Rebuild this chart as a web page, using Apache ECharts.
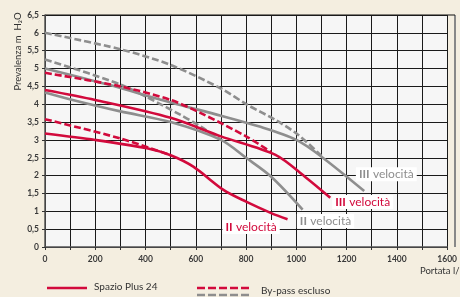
<!DOCTYPE html>
<html>
<head>
<meta charset="utf-8">
<script src="https://cdn.jsdelivr.net/npm/echarts@6/dist/echarts.min.js"></script>
<style>
  html, body { margin: 0; padding: 0; background: #f4eee0; }
  #chart { width: 460px; height: 297px; }
</style>
</head>
<body>
<div id="chart"></div>
<script>
// curve points [portata l/h, prevalenza m H2O]
const redSolidIII = [[0, 4.4], [200, 4.12], [500, 3.62], [700, 3.1], [917, 2.58], [1034, 1.97], [1135, 1.38]]
const redSolidII = [[0, 3.18], [200, 3.0], [410, 2.76], [500, 2.57], [590, 2.25], [710, 1.6], [800, 1.27], [900, 0.95], [965, 0.78]]
const redDashedIII = [[0, 4.88], [300, 4.5], [500, 4.12], [620, 3.75], [800, 3.1], [900, 2.66]]
const redDashedII = [[0, 3.58], [300, 3.04], [500, 2.57]]
const graySolidIII = [[0, 5.0], [250, 4.55], [500, 4.05], [700, 3.68], [850, 3.38], [1000, 3.0], [1100, 2.53], [1270, 1.57]]
const graySolidII = [[0, 4.33], [110, 4.12], [300, 3.8], [500, 3.5], [700, 3.0], [800, 2.5], [900, 1.97], [1025, 1.05]]
const grayDashedIII = [[0, 6.0], [300, 5.54], [500, 5.1], [700, 4.44], [806, 3.98], [917, 3.56], [1008, 3.14], [1100, 2.55]]
const grayDashedII = [[0, 5.25], [300, 4.55], [540, 3.7], [620, 3.37], [700, 3.0]]

const xTicks = [0, 200, 400, 600, 800, 1000, 1200, 1400, 1600]
const yMax = 6.5

const RED = '#d20a3c'
const GRAY = '#8e8e8e'
const FONT = 'Lato'

function curve(data, color, dashed) {
  return {
    type: 'line',
    data: data,
    smooth: 0.3,
    symbol: 'none',
    silent: true,
    lineStyle: {
      color: color,
      width: 2.6,
      type: dashed ? [7, 3] : 'solid'
    }
  }
}

function speedLabel(roman, color, coord) {
  return {
    type: 'line',
    data: [],
    silent: true,
    markPoint: {
      symbol: 'rect',
      symbolSize: 0,
      data: [{ coord: coord }],
      label: {
        show: true,
        position: 'inside',
        backgroundColor: '#ffffff',
        padding: [1, 3, 1, 3],
        formatter: '{b|' + roman + '} {n|velocità}',
        rich: {
          b: { fontFamily: FONT, fontWeight: 'bold', fontSize: 12, color: color },
          n: { fontFamily: FONT, fontSize: 12, color: color }
        }
      }
    }
  }
}

const chart = echarts.init(document.getElementById('chart'))
chart.setOption({
  backgroundColor: '#f4eee0',
  animation: false,
  grid: {
    left: 45,
    right: 5,
    top: 15,
    bottom: 50,
    show: true,
    backgroundColor: '#f6f6f6',
    borderWidth: 0
  },
  xAxis: {
    type: 'value',
    min: xTicks[0],
    max: xTicks[xTicks.length - 1],
    interval: 200,
    axisLine: { show: true, lineStyle: { color: '#555', width: 1.5 } },
    axisTick: { show: true, length: 3, lineStyle: { color: '#333' } },
    minorTick: { show: true, splitNumber: 2, length: 3, lineStyle: { color: '#333' } },
    splitLine: { show: true, lineStyle: { color: '#1a1a1a', width: 1 } },
    minorSplitLine: { show: true, lineStyle: { color: '#1a1a1a', width: 1 } },
    axisLabel: {
      margin: 8,
      fontFamily: FONT,
      fontSize: 8.5,
      fontWeight: 'bold',
      color: '#3a3a3a',
      formatter: v => String(v)
    }
  },
  yAxis: {
    type: 'value',
    min: 0,
    max: yMax,
    interval: 0.5,
    axisLine: { show: true, lineStyle: { color: '#555', width: 1.5 } },
    axisTick: { show: true, length: 3, lineStyle: { color: '#333' } },
    splitLine: { show: true, lineStyle: { color: '#1a1a1a', width: 1 } },
    axisLabel: {
      margin: 6,
      fontFamily: FONT,
      fontSize: 8.5,
      fontWeight: 'bold',
      color: '#3a3a3a',
      formatter: v => String(v).replace('.', ',')
    }
  },
  graphic: [
    // right frame edge
    { type: 'line', shape: { x1: 455, y1: 15, x2: 455, y2: 247 }, style: { stroke: '#888', lineWidth: 2 } },
    { type: 'line', shape: { x1: 45, y1: 15, x2: 455, y2: 15 }, style: { stroke: '#111', lineWidth: 1 } },
    {
      type: 'text', x: 17.5, y: 51.5, rotation: Math.PI / 2,
      style: { text: 'Prevalenza m  H₂O', fontFamily: FONT, fontSize: 9.5, fill: '#333', align: 'center', verticalAlign: 'middle' }
    },
    {
      type: 'text', left: 420, top: 266,
      style: { text: 'Portata l/h', fontFamily: FONT, fontSize: 9.5, fill: '#333' }
    },
    // legend
    { type: 'line', shape: { x1: 47, y1: 288, x2: 87, y2: 288 }, style: { stroke: RED, lineWidth: 2.6 } },
    {
      type: 'text', left: 94, top: 282,
      style: { text: 'Spazio Plus 24', fontFamily: FONT, fontSize: 10, fill: '#333' }
    },
    { type: 'line', shape: { x1: 197, y1: 288, x2: 251, y2: 288 }, style: { stroke: RED, lineWidth: 2.6, lineDash: [8, 3] } },
    { type: 'line', shape: { x1: 197, y1: 295, x2: 251, y2: 295 }, style: { stroke: GRAY, lineWidth: 2.6, lineDash: [8, 3] } },
    {
      type: 'text', left: 261, top: 286,
      style: { text: 'By-pass escluso', fontFamily: FONT, fontSize: 10, fill: '#333' }
    }
  ],
  series: [
    curve(grayDashedIII, GRAY, true),
    curve(grayDashedII, GRAY, true),
    curve(graySolidIII, GRAY, false),
    curve(graySolidII, GRAY, false),
    curve(redDashedIII, RED, true),
    curve(redDashedII, RED, true),
    curve(redSolidIII, RED, false),
    curve(redSolidII, RED, false),
    speedLabel('II', RED, [820, 0.56]),
    speedLabel('II', GRAY, [1116, 0.73]),
    speedLabel('III', RED, [1264, 1.26]),
    speedLabel('III', GRAY, [1358, 2.04])
  ]
})
</script>
</body>
</html>
